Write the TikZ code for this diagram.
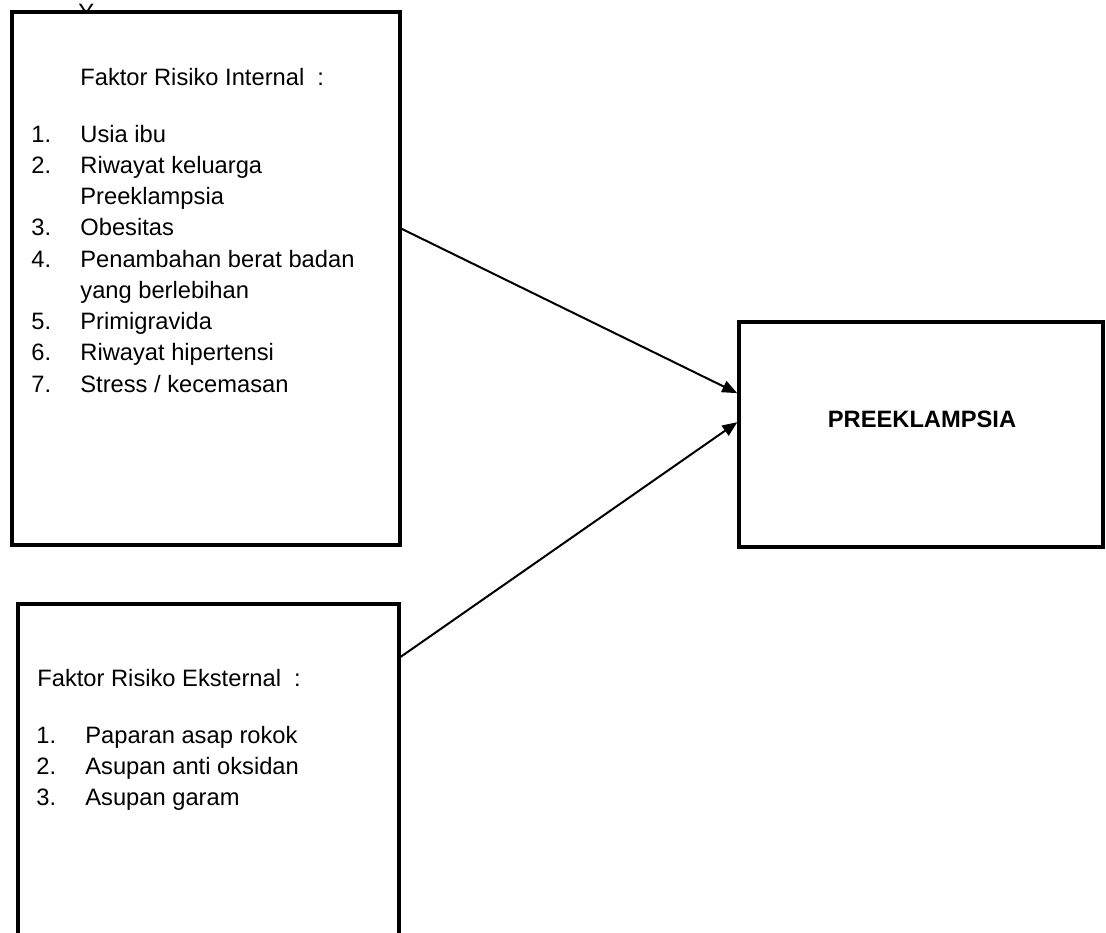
\documentclass[tikz,border=0pt]{standalone}
\usepackage{fontspec}
\setmainfont{Liberation Sans}
\usepackage{tikz}
\usetikzlibrary{arrows.meta}

\newcommand{\butir}[2]{\makebox[24.5pt][l]{#1}#2}

\begin{document}
\begin{tikzpicture}[x=0.5pt,y=-0.5pt,
  kotak/.style={draw,line width=2.2pt,fill=white,inner sep=0pt,outer sep=0pt},
  teks/.style={anchor=base west,inner sep=0pt,font=\fontsize{11.85}{14}\selectfont},
  panah/.style={-{Triangle[length=7.5pt,width=6pt]},line width=1pt,shorten >=1pt}]
\useasboundingbox (0,0) rectangle (1106,932);

\node[teks] (y) at (78,20) {Y};

\node[kotak,minimum width=194pt,minimum height=266.5pt] (internal) at (206,278.5) {};
\node[kotak,minimum width=190.5pt,minimum height=178pt] (external) at (208.5,782) {};
\node[kotak,minimum width=182pt,minimum height=112.5pt] (preeklampsia) at (921,434.5) {};

\draw[panah] ([yshift=25.25pt]internal.east) -- ([yshift=20.25pt]preeklampsia.west);
\draw[panah] ([yshift=62pt]external.east) -- ([yshift=6.75pt]preeklampsia.west);

\node[teks] (judulint) at (80,85) {Faktor Risiko Internal\ \ :};
\node[teks] (int1) at (31,142) {\butir{1.}{Usia ibu}};
\node[teks] (int2) at (31,173.25) {\butir{2.}{Riwayat keluarga}};
\node[teks] (int2b) at (80,204.5) {Preeklampsia};
\node[teks] (int3) at (31,235.75) {\butir{3.}{Obesitas}};
\node[teks] (int4) at (31,267) {\butir{4.}{Penambahan berat badan}};
\node[teks] (int4b) at (80,298.25) {yang berlebihan};
\node[teks] (int5) at (31,329.5) {\butir{5.}{Primigravida}};
\node[teks] (int6) at (31,360.75) {\butir{6.}{Riwayat hipertensi}};
\node[teks] (int7) at (31,392) {\butir{7.}{Stress / kecemasan}};

\node[teks] (judulext) at (37,686) {Faktor Risiko Eksternal\ \ :};
\node[teks] (ext1) at (36,743) {\butir{1.}{Paparan asap rokok}};
\node[teks] (ext2) at (36,774.3) {\butir{2.}{Asupan anti oksidan}};
\node[teks] (ext3) at (36,805.6) {\butir{3.}{Asupan garam}};

\node[teks,anchor=base,font=\fontsize{11.85}{14}\selectfont\bfseries] (judul) at (922,427) {PREEKLAMPSIA};
\end{tikzpicture}
\end{document}
